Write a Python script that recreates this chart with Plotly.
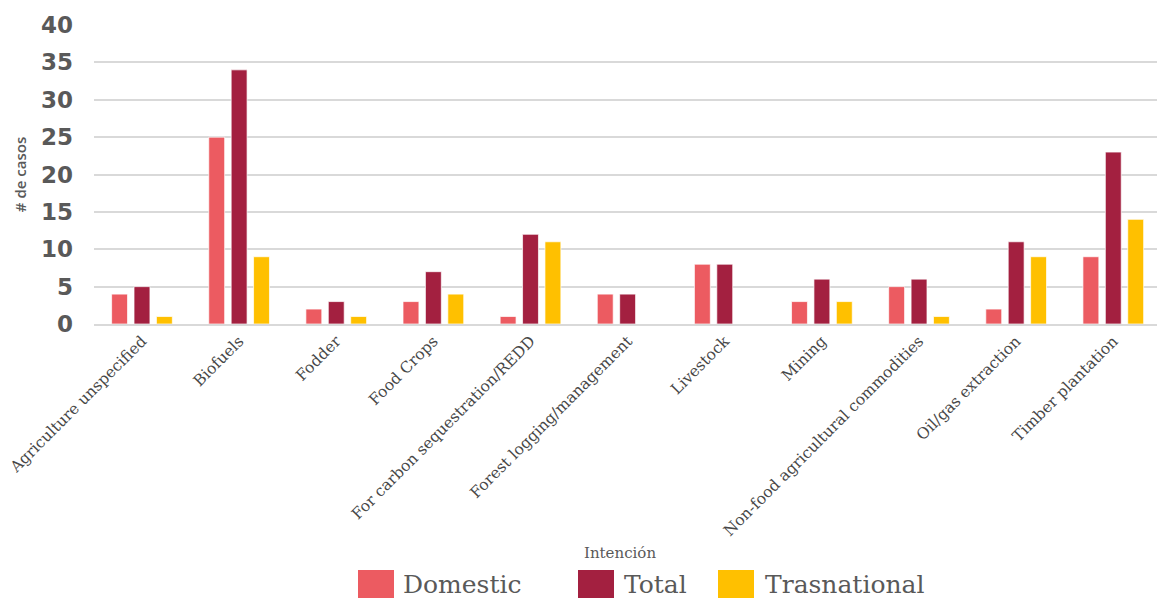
import plotly.graph_objects as go

categories = ["Agriculture unspecified", "Biofuels", "Fodder", "Food Crops",
              "For carbon sequestration/REDD", "Forest logging/management",
              "Livestock", "Mining", "Non-food agricultural commodities",
              "Oil/gas extraction", "Timber plantation"]
domestic = [4, 25, 2, 3, 1, 4, 8, 3, 5, 2, 9]
total = [5, 34, 3, 7, 12, 4, 8, 6, 6, 11, 23]
transnational = [1, 9, 1, 4, 11, 0, 0, 3, 1, 9, 14]
series_names = ["Domestic", "Total", "Trasnational"]
colors = ["#EC5B61", "#A32040", "#FFC000"]
legend_title = "Intención"
y_title = "# de casos"

L, R, T, B = 94, 0, 25, 274
W, H = 1157, 598
pw = W - L - R
ph = H - T - B

fig = go.Figure()
for name, vals, col in zip(series_names, [domestic, total, transnational], colors):
    fig.add_trace(go.Bar(x=categories, y=vals, name=name, marker_color=col,
                         marker_line=dict(color="rgba(255,255,255,0.7)", width=1),
                         showlegend=False))

def px_x(x):
    return (x - L) / pw

def px_y(y):
    return (H - B - y) / ph

# custom legend (large swatches)
sw_left = [358, 578, 718]
txt_left = [401, 622, 763]
shapes = []
annotations = []
for i, (name, col) in enumerate(zip(series_names, colors)):
    shapes.append(dict(type="rect", xref="paper", yref="paper",
                       x0=px_x(sw_left[i]), x1=px_x(sw_left[i] + 36),
                       y0=px_y(598), y1=px_y(570), fillcolor=col, line_width=0))
    annotations.append(dict(xref="paper", yref="paper", x=px_x(txt_left[i]), y=px_y(584),
                            text=name, showarrow=False, xanchor="left", yanchor="middle",
                            font=dict(family="DejaVu Serif", size=25, color="#595959")))
annotations.append(dict(xref="paper", yref="paper", x=px_x(620), y=px_y(553),
                        text=legend_title, showarrow=False, xanchor="center", yanchor="middle",
                        font=dict(family="DejaVu Serif", size=15, color="#595959")))

fig.update_layout(
    width=W, height=H,
    margin=dict(l=L, r=R, t=T, b=B, autoexpand=False),
    paper_bgcolor="white", plot_bgcolor="white",
    barmode="group", bargap=0.308, bargroupgap=0.29,
    shapes=shapes, annotations=annotations,
)
fig.update_xaxes(
    range=[-0.494, 10.45], tickangle=-45, automargin=False,
    tickfont=dict(family="DejaVu Serif", size=15.5, color="#474747"),
    showline=True, linecolor="#d9d9d9", linewidth=2, ticks="", showgrid=False,
)
fig.update_yaxes(
    range=[0, 40], dtick=5, automargin=False,
    showgrid=True, gridcolor="#d9d9d9", gridwidth=1.5, zeroline=False,
    tickfont=dict(family="DejaVu Sans", size=23, color="#595959", weight="bold"),
    ticklabelstandoff=20,
    title=dict(text=y_title, standoff=10,
               font=dict(family="Open Sans", size=15, color="#595959", weight=600)),
)
fig.write_html("out.html", config={"displayModeBar": False},
               post_script="document.body.style.margin='0';document.body.style.overflow='hidden';")
